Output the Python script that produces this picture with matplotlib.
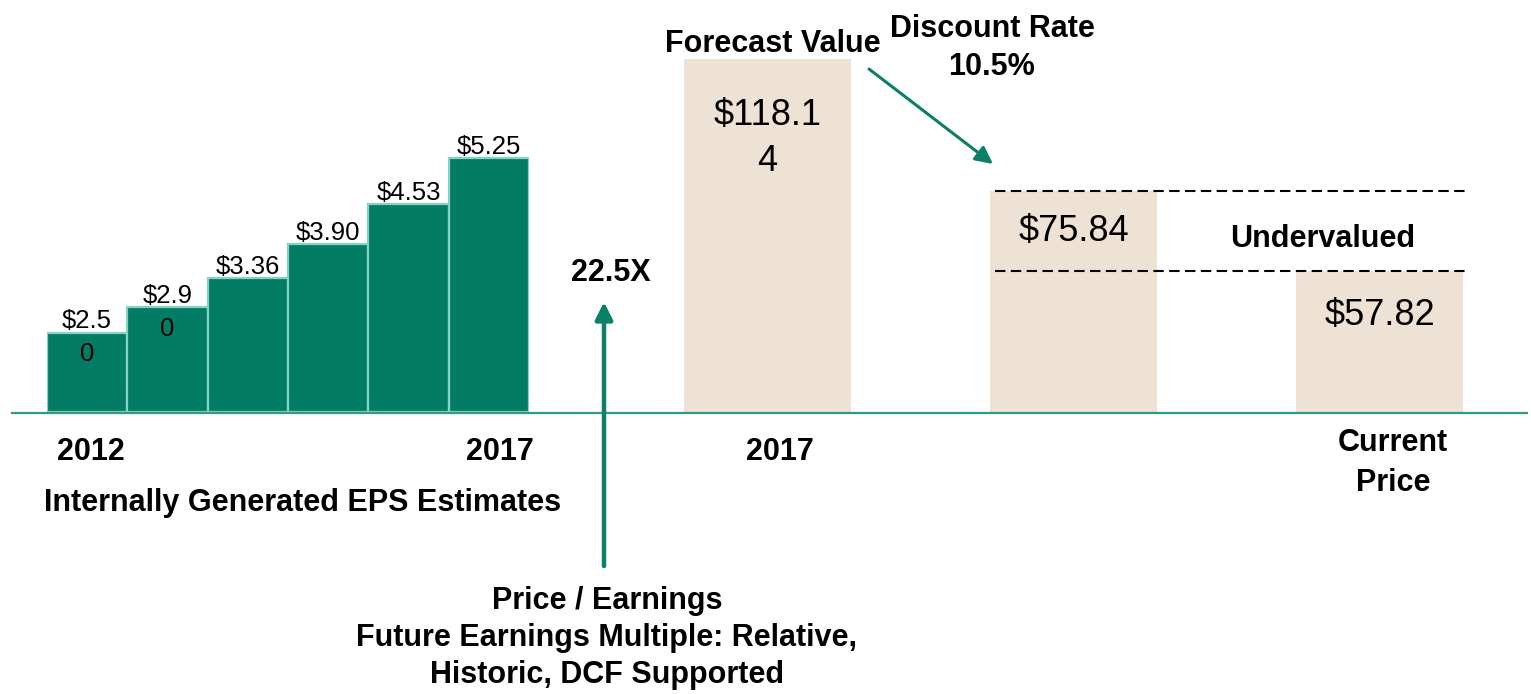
import numpy as np
import matplotlib
matplotlib.use("Agg")
import matplotlib.pyplot as plt

plt.rcParams['font.family'] = ['Liberation Sans', 'DejaVu Sans']

# ---------------- data ----------------
eps_years = ["2012", "2013", "2014", "2015", "2016", "2017"]
eps_values = [2.50, 2.90, 3.36, 3.90, 4.53, 5.25]
eps_labels = ["$2.5\n0", "$2.9\n0", "$3.36", "$3.90", "$4.53", "$5.25"]

price_names = ["Forecast Value 2017", "Discounted Value", "Current Price"]
price_values = [118.14, 75.84, 57.82]
price_labels = ["$118.1\n4", "$75.84", "$57.82"]

pe_multiple = "22.5X"
discount_rate = "10.5%"

# ---------------- style ----------------
W, H = 1531, 694
GREEN = "#037C64"
GREEN_EDGE = "#86D3C3"
ARROW_GREEN = "#0B7F67"
BEIGE = "#EEE2D4"
BASE_COLOR = "#2F9A86"
BASE_PX = 412

fig = plt.figure(figsize=(W / 100, H / 100), dpi=100)

def rect(l, r):
    return [l / W, (H - BASE_PX) / H, (r - l) / W, BASE_PX / H]

# EPS axes (linear)
ax1 = fig.add_axes(rect(47, 529))
ax1.set_xlim(-0.5, 5.5)
eps_base = 1.25
ax1.set_ylim(eps_base, eps_base + BASE_PX / 63.5)
x1 = np.arange(len(eps_values))
ax1.bar(x1, np.array(eps_values) - eps_base, bottom=eps_base, width=1.0,
        color=GREEN, edgecolor=GREEN_EDGE, linewidth=1.6)
for xi, v, lab in zip(x1, eps_values, eps_labels):
    lines = lab.split("\n")
    ax1.annotate(lines[0], xy=(xi, v), xytext=(0, 3), textcoords="offset points",
                 ha="center", va="baseline", fontsize=18.5,
                 color="black", annotation_clip=False)
    if len(lines) > 1:
        ax1.annotate("\n".join(lines[1:]), xy=(xi, v), xytext=(0, -7),
                     textcoords="offset points", ha="center", va="top",
                     fontsize=18.5, color="black", annotation_clip=False)
ax1.axis("off")

# Price axes (log)
pw = 0.545
ax2 = fig.add_axes(rect(684, 1463))
ax2.set_yscale("log")
p_base = 36.0
ax2.set_ylim(p_base, 144.0)
ax2.set_xlim(-pw / 2, 2 + pw / 2)
x2 = np.arange(len(price_values))
ax2.bar(x2, np.array(price_values) - p_base, bottom=p_base, width=pw,
        color=BEIGE, edgecolor="none")
label_offsets = [-28, -17, -19]
for xi, v, lab, off in zip(x2, price_values, price_labels, label_offsets):
    ax2.annotate(lab, xy=(xi, v), xytext=(0, off), textcoords="offset points",
                 ha="center", va="top", fontsize=26, linespacing=1.4,
                 color="black", annotation_clip=False)
# dashed reference lines
for v in price_values[1:]:
    ax2.plot([1 - pw / 2 + 0.015, 2 + pw / 2 + 0.01], [v, v], color="black", lw=1.5,
             linestyle=(0, (5, 2.6)), clip_on=False)
ax2.axis("off")

# overlay axes in pixel space for annotations
ov = fig.add_axes([0, 0, 1, 1], zorder=5)
ov.set_xlim(0, W)
ov.set_ylim(H, 0)
ov.axis("off")
ov.patch.set_alpha(0)

ov.plot([12, 1527], [BASE_PX + 1, BASE_PX + 1], color=BASE_COLOR, lw=1.6)

bold = dict(fontweight="bold", fontsize=22, color="black", ha="center", va="center")
ov.text(91, 452, eps_years[0], **bold)
ov.text(500, 452, eps_years[-1], **bold)
ov.text(303, 503, "Internally Generated EPS Estimates", **bold)
ov.text(780, 452, eps_years[-1], **bold)
ov.text(611, 273, pe_multiple, **bold)
ov.text(773, 44, "Forecast Value", **bold)
ov.text(992, 48, "Discount Rate\n" + discount_rate, linespacing=1.38, **bold)
ov.text(1393, 463, "Current\nPrice", linespacing=1.4, **bold)
ov.text(1323, 239, "Undervalued", **bold)
ov.text(607, 638, "Price / Earnings\nFuture Earnings Multiple: Relative,\nHistoric, DCF Supported",
        linespacing=1.3, **bold)

ov.annotate("", xy=(993, 164), xytext=(869, 69),
            arrowprops=dict(arrowstyle="-|>", color=ARROW_GREEN, lw=2.2,
                            mutation_scale=26, shrinkA=0, shrinkB=0))
ov.annotate("", xy=(604, 302), xytext=(604, 566),
            arrowprops=dict(arrowstyle="-|>", color=ARROW_GREEN, lw=3.2,
                            mutation_scale=26, shrinkA=0, shrinkB=0))

fig.savefig("out.png", dpi=100)
